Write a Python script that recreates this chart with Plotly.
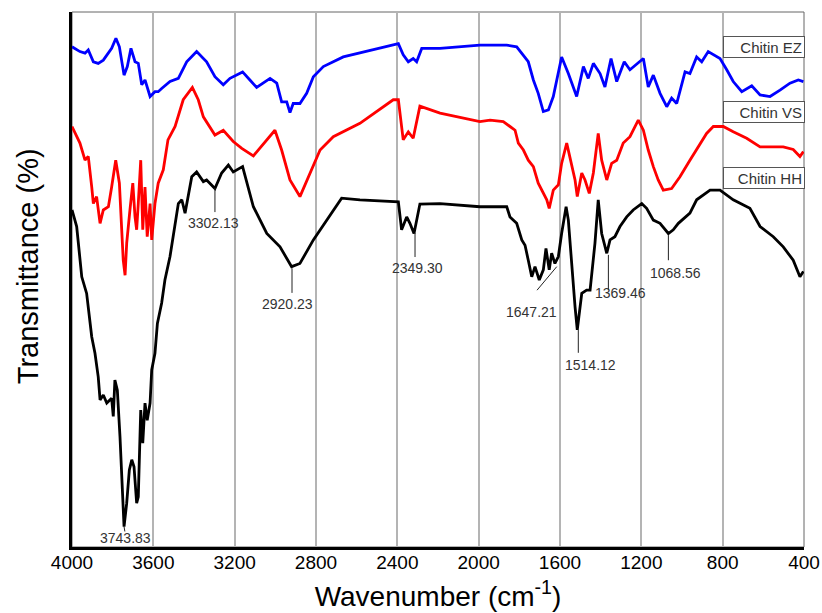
import plotly.graph_objects as go

# ---------------- data ----------------
wn_ez = [4000, 3961, 3936, 3920, 3895, 3871, 3846, 3821, 3805, 3784,
         3767, 3744, 3728, 3710, 3690, 3674, 3657, 3641, 3616, 3592,
         3576, 3559, 3518, 3477, 3436, 3387, 3338, 3297, 3256, 3223,
         3161, 3125, 3092, 3026, 2993, 2969, 2944, 2928, 2912, 2879,
         2846, 2813, 2764, 2666, 2551, 2420, 2395, 2371, 2346, 2322,
         2305, 2280, 2190, 1994, 1862, 1813, 1788, 1756, 1731, 1707,
         1682, 1657, 1633, 1592, 1559, 1518, 1485, 1461, 1436, 1403,
         1379, 1349, 1321, 1284, 1256, 1190, 1166, 1141, 1108, 1075,
         1051, 1026, 985, 961, 928, 903, 871, 813, 780, 748,
         706, 657, 616, 567, 518, 469, 428, 403]
t_ez = [93.5, 92.6, 92.3, 92.9, 90.7, 90.4, 91.0, 92.3, 93.2, 95.1,
        93.5, 88.2, 89.8, 93.2, 90.7, 90.4, 86.4, 87.3, 84.2, 85.1,
        85.1, 85.7, 87.0, 87.6, 90.7, 92.6, 90.7, 87.9, 86.4, 87.6,
        88.8, 87.3, 85.9, 87.6, 86.7, 83.2, 83.2, 81.2, 82.9, 82.9,
        84.8, 87.9, 89.8, 91.6, 92.6, 93.8, 94.1, 92.0, 90.7, 91.3,
        90.7, 93.2, 93.2, 93.8, 93.8, 93.5, 92.3, 90.7, 87.3, 84.8,
        81.4, 81.7, 84.2, 91.6, 88.5, 84.2, 89.8, 87.6, 90.4, 88.5,
        86.0, 91.3, 87.0, 90.7, 89.2, 91.3, 86.0, 88.2, 84.8, 82.3,
        83.9, 82.9, 88.8, 88.5, 91.6, 90.7, 92.6, 91.3, 89.2, 87.0,
        85.1, 86.2, 84.5, 84.2, 85.4, 86.7, 87.3, 87.0]

wn_vs = [4000, 3961, 3936, 3920, 3903, 3895, 3879, 3862, 3846, 3821,
         3805, 3785, 3767, 3748, 3739, 3731, 3715, 3701, 3690, 3682,
         3674, 3662, 3652, 3641, 3630, 3616, 3608, 3592, 3576, 3551,
         3528, 3493, 3453, 3408, 3379, 3354, 3297, 3256, 3207, 3165,
         3108, 3042, 3002, 2969, 2928, 2879, 2830, 2780, 2715, 2584,
         2420, 2395, 2371, 2346, 2322, 2289, 2190, 1994, 1944, 1879,
         1846, 1821, 1805, 1780, 1756, 1731, 1707, 1682, 1665, 1653,
         1633, 1608, 1592, 1567, 1551, 1526, 1515, 1493, 1477, 1456,
         1436, 1412, 1395, 1370, 1346, 1321, 1289, 1256, 1215, 1190,
         1166, 1141, 1117, 1092, 1051, 1010, 961, 879, 846, 797,
         748, 682, 616, 551, 502, 453, 420, 403]
t_vs = [78.6, 75.5, 72.3, 73.0, 67.3, 64.2, 65.5, 60.5, 63.0, 63.6,
        67.3, 72.3, 68.0, 53.6, 50.8, 56.8, 63.0, 68.0, 61.7, 59.3,
        64.2, 72.3, 59.3, 67.3, 58.0, 64.2, 57.4, 64.2, 68.0, 70.5,
        76.1, 78.6, 83.6, 85.9, 83.6, 80.4, 77.0, 77.9, 75.8, 74.5,
        73.1, 76.1, 77.9, 74.2, 68.6, 65.5, 69.9, 74.2, 76.7, 79.2,
        83.6, 83.6, 76.1, 77.6, 76.4, 82.4, 81.1, 79.5, 79.8, 79.5,
        78.6, 77.9, 75.5, 74.2, 72.3, 71.1, 68.0, 66.1, 64.9, 63.3,
        66.7, 67.7, 71.7, 75.5, 73.0, 68.6, 65.5, 69.9, 68.6, 66.1,
        69.9, 77.3, 72.3, 68.6, 71.7, 72.3, 75.5, 76.7, 79.8, 77.9,
        74.2, 71.1, 68.6, 66.7, 67.0, 69.2, 72.3, 77.3, 78.6, 78.6,
        77.6, 76.4, 74.8, 74.8, 74.8, 74.3, 73.0, 73.9]

wn_hh = [4000, 3977, 3952, 3928, 3903, 3887, 3871, 3862, 3846, 3829,
         3805, 3797, 3789, 3777, 3764, 3748, 3744, 3731, 3718, 3706,
         3695, 3682, 3674, 3662, 3652, 3641, 3630, 3616, 3608, 3592,
         3580, 3559, 3543, 3518, 3477, 3460, 3444, 3411, 3387, 3354,
         3338, 3297, 3264, 3231, 3207, 3161, 3108, 3042, 2977, 2920,
         2879, 2813, 2747, 2674, 2584, 2395, 2379, 2354, 2338, 2318,
         2289, 2190, 1994, 1944, 1862, 1846, 1813, 1788, 1772, 1756,
         1739, 1723, 1702, 1682, 1669, 1653, 1641, 1625, 1608, 1592,
         1570, 1559, 1542, 1526, 1515, 1502, 1493, 1469, 1452, 1428,
         1412, 1395, 1370, 1354, 1330, 1305, 1272, 1240, 1198, 1174,
         1141, 1108, 1067, 1043, 1018, 961, 928, 862, 813, 748,
         666, 616, 551, 502, 453, 420, 403]
t_hh = [63.0, 59.9, 50.5, 47.4, 39.3, 36.2, 31.8, 27.5, 28.4, 26.9,
        27.8, 24.4, 31.2, 29.3, 20.6, 5.7, 3.8, 8.2, 14.4, 16.3,
        15.0, 8.2, 9.4, 25.6, 19.4, 26.9, 23.7, 26.9, 33.1, 36.2,
        41.8, 45.6, 49.9, 54.3, 64.2, 64.9, 62.4, 69.2, 70.1, 68.3,
        68.6, 67.0, 69.9, 71.4, 70.1, 71.1, 63.6, 58.6, 56.1, 52.4,
        53.0, 57.4, 61.1, 65.2, 64.9, 64.5, 59.3, 61.7, 60.5, 58.6,
        64.1, 64.2, 63.6, 63.6, 63.6, 61.7, 60.5, 57.4, 56.4, 53.6,
        50.5, 52.4, 49.9, 51.8, 55.8, 51.8, 54.9, 53.0, 54.3, 58.6,
        63.6, 61.1, 51.8, 44.9, 40.6, 44.3, 47.4, 48.0, 48.0, 56.8,
        64.9, 58.6, 54.9, 57.4, 58.0, 59.9, 61.7, 63.0, 64.2, 63.3,
        61.1, 60.5, 58.6, 59.3, 60.5, 62.4, 64.9, 66.7, 66.7, 64.9,
        63.3, 59.9, 58.0, 56.1, 53.6, 50.5, 51.5]

series_names = ["Chitin EZ", "Chitin VS", "Chitin HH"]
series_colors = ["#0000ff", "#ff0000", "#000000"]

# peak labels: text, leader line x, leader line y start/end, label x, label y
peak_text = ["3743.83", "3302.13", "2920.23", "2349.30", "1647.21", "1514.12", "1369.46", "1068.56"]
peak_lx0 = [3744, 3297, 2918, 2313, 1616, 1510, 1362, 1067]
peak_lx1 = [3740, 3297, 2918, 2313, 1713, 1510, 1362, 1067]
peak_ly0 = [3.8, 67.1, 52.1, 58.7, 52.4, 40.6, 54.6, 58.3]
peak_ly1 = [2.9, 62.6, 47.5, 54.2, 48.0, 36.3, 48.0, 53.6]
peak_tx = [3739, 3302, 2940, 2303, 1739, 1451, 1302, 1034]
peak_ty = [1.7, 60.6, 45.4, 52.1, 44.0, 34.0, 47.4, 51.2]

x_ticks = [4000, 3600, 3200, 2800, 2400, 2000, 1600, 1200, 800, 400]

# ---------------- figure ----------------
FONT = "Liberation Sans, Arial, sans-serif"
fig = go.Figure()
for wn, t, name, col in zip([wn_ez, wn_vs, wn_hh], [t_ez, t_vs, t_hh], series_names, series_colors):
    fig.add_trace(go.Scatter(x=wn, y=t, mode="lines", name=name,
                             line=dict(color=col, width=2.8), showlegend=False))

shapes = []
annotations = []
for txt, x0, x1, y0, y1, tx, ty in zip(peak_text, peak_lx0, peak_lx1, peak_ly0, peak_ly1, peak_tx, peak_ty):
    shapes.append(dict(type="line", xref="x", yref="y", x0=x0, x1=x1, y0=y0, y1=y1,
                       line=dict(color="#222222", width=1)))
    annotations.append(dict(x=tx, y=ty, xref="x", yref="y", text=txt, showarrow=False,
                            font=dict(family=FONT, size=14, color="#333333")))

# series label boxes
box_y = [0.935, 0.8136, 0.689]
for name, yb in zip(series_names, box_y):
    annotations.append(dict(x=1.002, y=yb, xref="paper", yref="paper", xanchor="right", yanchor="middle",
                            text=name, showarrow=False, align="right", width=76, height=16,
                            borderpad=2, bordercolor="#555555", borderwidth=1, bgcolor="white",
                            font=dict(family=FONT, size=15, color="#333333")))

# y-axis title
annotations.append(dict(x=-0.06, y=0.525, xref="paper", yref="paper", xanchor="center", yanchor="middle",
                        text="Transmittance (%)", textangle=-90, showarrow=False,
                        font=dict(family=FONT, size=29, color="#000000")))

# thin grey frame (top / right)
shapes.append(dict(type="rect", xref="paper", yref="paper", x0=0, x1=1, y0=0, y1=1,
                   line=dict(color="#666666", width=1), layer="below"))

fig.update_layout(
    width=822, height=613,
    margin=dict(l=72, r=18, t=12, b=66),
    paper_bgcolor="white", plot_bgcolor="white",
    font=dict(family=FONT, color="#000000"),
    shapes=shapes, annotations=annotations,
    xaxis=dict(range=[4000, 400], tickvals=x_ticks, ticktext=[str(v) for v in x_ticks],
               automargin=False,
               showgrid=True, gridcolor="#b4b4b4", gridwidth=1.5,
               showline=True, linecolor="#000000", linewidth=2.5,
               ticks="", tickfont=dict(size=19, family=FONT, color="#000000"),
               ticklabelstandoff=-4,
               zeroline=False,
               title=dict(text="Wavenumber (cm<sup>-1</sup>)", font=dict(size=28, family=FONT),
                          standoff=15)),
    yaxis=dict(range=[0, 100], showticklabels=False, ticks="", showgrid=False, zeroline=False,
               automargin=False,
               showline=True, linecolor="#000000", linewidth=2.5),
)

fig.write_html("out.html", config={"displayModeBar": False},
               post_script="document.body.style.margin='0';document.body.style.overflow='hidden';")
